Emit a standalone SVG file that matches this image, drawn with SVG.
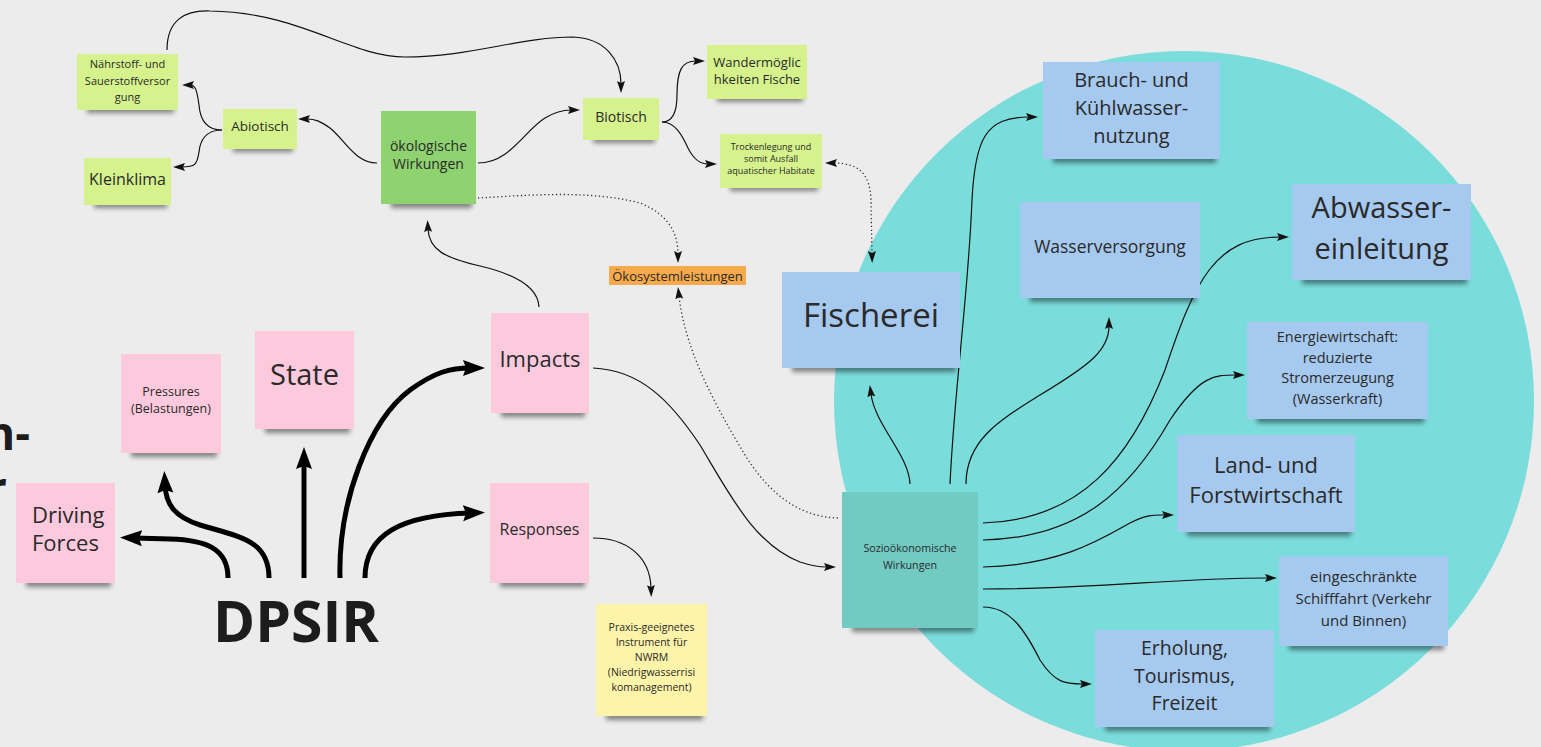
<svg xmlns="http://www.w3.org/2000/svg" width="1541" height="747" viewBox="0 0 1541 747">
  <style>
    text { font-family: "Open Sans", "Noto Sans", "Liberation Sans", sans-serif; fill: #2a2a2a; text-anchor: middle; }
    .sh { fill: #000; opacity: 0.45; filter: url(#soft); }
    .lime { fill: #d6f28d; }
    .green { fill: #8fd270; }
    .pink { fill: #fdcadd; }
    .yellow { fill: #fdf4a9; }
    .orange { fill: #f7aa4c; }
    .blue { fill: #a6c9ef; }
    .teal { fill: #71cbc3; }
    .ln { fill: none; stroke: #111; stroke-width: 1.2; marker-end: url(#sm); }
    .dot { fill: none; stroke: #333; stroke-width: 1.3; stroke-dasharray: 1.3 2.6; }
    .bold { fill: none; stroke: #000; stroke-width: 5; marker-end: url(#big); }
    .big { font-weight: 700; fill: #1c1c1c; }
  </style>
  <defs>
    <filter id="soft" x="-20%" y="-200%" width="140%" height="500%">
      <feGaussianBlur stdDeviation="2.5"/>
    </filter>
    <marker id="sm" markerUnits="userSpaceOnUse" viewBox="0 0 12 8" markerWidth="12" markerHeight="8" refX="3" refY="4" orient="auto">
      <path d="M0,0 L12,4 L0,8 L2,4 z" fill="#111"/>
    </marker>
    <marker id="smr" markerUnits="userSpaceOnUse" viewBox="0 0 12 8" markerWidth="12" markerHeight="8" refX="3" refY="4" orient="auto-start-reverse">
      <path d="M0,0 L12,4 L0,8 L2,4 z" fill="#111"/>
    </marker>
    <marker id="big" markerUnits="userSpaceOnUse" viewBox="0 0 22 18" markerWidth="22" markerHeight="18" refX="8" refY="9" orient="auto">
      <path d="M0,1 L22,9 L0,17 L3,9 z" fill="#000"/>
    </marker>
  </defs>

  <!-- canvas -->
  <rect width="1541" height="747" fill="#ececec"/>
  <circle cx="1184" cy="401" r="350" fill="#7bdcdc"/>

  <!-- heading fragments at the left edge -->
  <text class="big" x="30" y="450" font-size="46" style="text-anchor:end">n-</text>
  <text class="big" x="7" y="505" font-size="46" style="text-anchor:end">r</text>

  <!-- DPSIR -->
  <g id="dpsir">
    <text class="big" x="296" y="642" font-size="57">DPSIR</text>
  </g>

  <!-- connectors -->
  <g id="connectors">
    <!-- DPSIR arrows -->
    <path class="bold" d="M228,578 C228,548 205,540 170,539 L134,538"/>
    <path class="bold" d="M269,578 C269,540 240,537 200,525 C175,517 166,505 165,485"/>
    <path class="bold" d="M304,578 L304,461"/>
    <path class="bold" d="M340,578 C338,500 370,420 410,390 C435,372 450,368 471,368"/>
    <path class="bold" d="M365,578 C365,535 400,515 471,513"/>

    <!-- ecological branch -->
    <path class="ln" d="M222,130 C205,130 200,118 199,105 C197,90 195,85 191,85"/>
    <path class="ln" d="M222,130 C205,130 200,142 199,152 C197,165 195,167 182,167"/>
    <path class="ln" d="M377,163 C355,163 345,140 330,128 C320,121 315,119 307,119"/>
    <path class="ln" d="M478,163 C510,163 525,130 545,118 C555,112 562,110 571,110"/>
    <path class="ln" d="M662,122 C675,122 677,108 677,95 C677,70 682,61 696,61"/>
    <path class="ln" d="M662,122 C675,122 682,135 688,148 C694,160 700,164 708,164"/>
    <path class="ln" d="M167,50 C167,20 185,10 210,11 C300,12 350,57 405,57 C470,57 520,37 573,37 C605,38 621,60 621,84"/>
    <path class="ln" d="M539,307 C538,285 510,273 480,266 C445,258 429,250 428,229"/>

    <!-- responses / impacts -->
    <path class="ln" d="M593,538 C625,538 650,555 651,588"/>
    <path class="ln" d="M593,368 C640,370 670,400 700,445 C730,495 755,545 800,562 C812,566 820,567 827,567"/>

    <!-- dotted links -->
    <path class="dot" d="M834,163 C860,163 870,175 871,200 L872,254" marker-start="url(#smr)" marker-end="url(#sm)"/>
    <path class="dot" d="M478,198 C530,195 590,190 640,203 C670,215 678,235 678,254" marker-end="url(#sm)"/>
    <path class="dot" d="M838,518 C800,517 770,495 745,455 C715,405 685,350 679,296" marker-end="url(#sm)"/>

    <!-- socio-economic effects -->
    <path class="ln" d="M910,484 C909,455 875,425 871,394"/>
    <path class="ln" d="M950,484 C955,380 968,300 972,200 C975,140 985,117 1029,117"/>
    <path class="ln" d="M966,484 C966,440 1000,420 1040,395 C1090,365 1109,350 1109,326"/>
    <path class="ln" d="M983,523 C1080,520 1130,460 1165,370 C1195,280 1215,237 1280,237"/>
    <path class="ln" d="M983,540 C1080,538 1130,490 1170,420 C1200,375 1215,375 1236,375"/>
    <path class="ln" d="M983,567 C1060,565 1100,540 1130,523 C1148,514 1155,515 1165,515"/>
    <path class="ln" d="M983,589 C1100,589 1170,578 1268,578"/>
    <path class="ln" d="M983,607 C1010,607 1025,630 1040,660 C1055,683 1065,684 1083,684"/>
  </g>

  <!-- ecological nodes -->
  <g id="naehrstoff">
    <rect class="sh" x="87" y="106" width="87" height="7"/>
    <rect class="lime" x="77" y="54" width="101" height="56"/>
    <text font-size="11"><tspan x="127.5" y="68">Nährstoff- und</tspan><tspan x="127.5" y="85">Sauerstoffversor</tspan><tspan x="127.5" y="101">gung</tspan></text>
  </g>
  <g id="abiotisch">
    <rect class="sh" x="233" y="145" width="60" height="7"/>
    <rect class="lime" x="223" y="109" width="74" height="40"/>
    <text font-size="13.5" x="260" y="130.5">Abiotisch</text>
  </g>
  <g id="kleinklima">
    <rect class="sh" x="94" y="201" width="73" height="7"/>
    <rect class="lime" x="84" y="158" width="87" height="47"/>
    <text font-size="16" x="127.5" y="184.5">Kleinklima</text>
  </g>
  <g id="oekologische-wirkungen">
    <rect class="sh" x="391" y="200" width="81" height="8"/>
    <rect class="green" x="381" y="111" width="95" height="93"/>
    <text font-size="14"><tspan x="428.5" y="150.5">ökologische</tspan><tspan x="428.5" y="168.5">Wirkungen</tspan></text>
  </g>
  <g id="biotisch">
    <rect class="sh" x="593" y="136" width="62" height="7"/>
    <rect class="lime" x="583" y="98" width="76" height="42"/>
    <text font-size="14" x="621" y="122">Biotisch</text>
  </g>
  <g id="wandermoeglichkeiten">
    <rect class="sh" x="717" y="95" width="86" height="7"/>
    <rect class="lime" x="707" y="45" width="100" height="54"/>
    <text font-size="13"><tspan x="757" y="66.5">Wandermöglic</tspan><tspan x="757" y="83.5">hkeiten Fische</tspan></text>
  </g>
  <g id="trockenlegung">
    <rect class="sh" x="730" y="184" width="88" height="7"/>
    <rect class="lime" x="720" y="134" width="102" height="54"/>
    <text font-size="9"><tspan x="771" y="150">Trockenlegung und</tspan><tspan x="771" y="162">somit Ausfall</tspan><tspan x="771" y="174">aquatischer Habitate</tspan></text>
  </g>
  <g id="oekosystemleistungen">
    <rect class="orange" x="609" y="266" width="137" height="19"/>
    <text font-size="13" x="677.5" y="280.5">Ökosystemleistungen</text>
  </g>

  <!-- DPSIR nodes -->
  <g id="pressures">
    <rect class="sh" x="131" y="449" width="86" height="8"/>
    <rect class="pink" x="121" y="354" width="100" height="99"/>
    <text font-size="12.5"><tspan x="171" y="396">Pressures</tspan><tspan x="171" y="413">(Belastungen)</tspan></text>
  </g>
  <g id="state">
    <rect class="sh" x="265" y="425" width="85" height="8"/>
    <rect class="pink" x="255" y="331" width="99" height="98"/>
    <text font-size="29" x="304.5" y="385">State</text>
  </g>
  <g id="driving-forces">
    <rect class="sh" x="26" y="579" width="85" height="8"/>
    <rect class="pink" x="16" y="483" width="99" height="100"/>
    <text font-size="22" style="text-anchor:start"><tspan x="32" y="523">Driving</tspan><tspan x="32" y="551">Forces</tspan></text>
  </g>
  <g id="impacts">
    <rect class="sh" x="501" y="409" width="84" height="8"/>
    <rect class="pink" x="491" y="313" width="98" height="100"/>
    <text font-size="22" x="540" y="367">Impacts</text>
  </g>
  <g id="responses">
    <rect class="sh" x="500" y="579" width="85" height="8"/>
    <rect class="pink" x="490" y="483" width="99" height="100"/>
    <text font-size="16" x="539.5" y="535">Responses</text>
  </g>
  <g id="praxis-instrument">
    <rect class="sh" x="606" y="712" width="97" height="8"/>
    <rect class="yellow" x="596" y="604" width="111" height="112"/>
    <text font-size="10.5"><tspan x="651.5" y="631">Praxis-geeignetes</tspan><tspan x="651.5" y="646">Instrument für</tspan><tspan x="651.5" y="661">NWRM</tspan><tspan x="651.5" y="676">(Niedrigwasserrisi</tspan><tspan x="651.5" y="691">komanagement)</tspan></text>
  </g>

  <!-- socio-economic nodes -->
  <g id="soziooekonomische-wirkungen">
    <rect class="sh" x="852" y="624" width="122" height="8"/>
    <rect class="teal" x="842" y="492" width="136" height="136"/>
    <text font-size="10.7"><tspan x="910" y="552">Sozioökonomische</tspan><tspan x="910" y="569">Wirkungen</tspan></text>
  </g>
  <g id="fischerei">
    <rect class="sh" x="792" y="364" width="164" height="8"/>
    <rect class="blue" x="782" y="272" width="178" height="96"/>
    <text font-size="33" x="871" y="327">Fischerei</text>
  </g>
  <g id="brauchwasser">
    <rect class="sh" x="1053" y="155" width="163" height="8"/>
    <rect class="blue" x="1043" y="62" width="177" height="97"/>
    <text font-size="20"><tspan x="1131.5" y="87">Brauch- und</tspan><tspan x="1131.5" y="115">Kühlwasser-</tspan><tspan x="1131.5" y="143">nutzung</tspan></text>
  </g>
  <g id="wasserversorgung">
    <rect class="sh" x="1030" y="294" width="166" height="8"/>
    <rect class="blue" x="1020" y="202" width="180" height="96"/>
    <text font-size="17.5" x="1110" y="253">Wasserversorgung</text>
  </g>
  <g id="abwassereinleitung">
    <rect class="sh" x="1302" y="276" width="165" height="8"/>
    <rect class="blue" x="1292" y="184" width="179" height="96"/>
    <text font-size="29"><tspan x="1381.5" y="218">Abwasser-</tspan><tspan x="1381.5" y="259">einleitung</tspan></text>
  </g>
  <g id="energiewirtschaft">
    <rect class="sh" x="1257" y="415" width="167" height="8"/>
    <rect class="blue" x="1247" y="322" width="181" height="97"/>
    <text font-size="14.5"><tspan x="1337.5" y="342">Energiewirtschaft:</tspan><tspan x="1337.5" y="363">reduzierte</tspan><tspan x="1337.5" y="383">Stromerzeugung</tspan><tspan x="1337.5" y="404">(Wasserkraft)</tspan></text>
  </g>
  <g id="land-forstwirtschaft">
    <rect class="sh" x="1187" y="528" width="164" height="8"/>
    <rect class="blue" x="1177" y="435" width="178" height="97"/>
    <text font-size="22"><tspan x="1266" y="473">Land- und</tspan><tspan x="1266" y="503">Forstwirtschaft</tspan></text>
  </g>
  <g id="schifffahrt">
    <rect class="sh" x="1289" y="642" width="155" height="8"/>
    <rect class="blue" x="1279" y="556" width="169" height="90"/>
    <text font-size="15"><tspan x="1363.5" y="582">eingeschränkte</tspan><tspan x="1363.5" y="604">Schifffahrt (Verkehr</tspan><tspan x="1363.5" y="626">und Binnen)</tspan></text>
  </g>
  <g id="erholung">
    <rect class="sh" x="1105" y="723" width="165" height="8"/>
    <rect class="blue" x="1095" y="630" width="179" height="97"/>
    <text font-size="19.5"><tspan x="1184.5" y="655">Erholung,</tspan><tspan x="1184.5" y="683">Tourismus,</tspan><tspan x="1184.5" y="710">Freizeit</tspan></text>
  </g>
</svg>
